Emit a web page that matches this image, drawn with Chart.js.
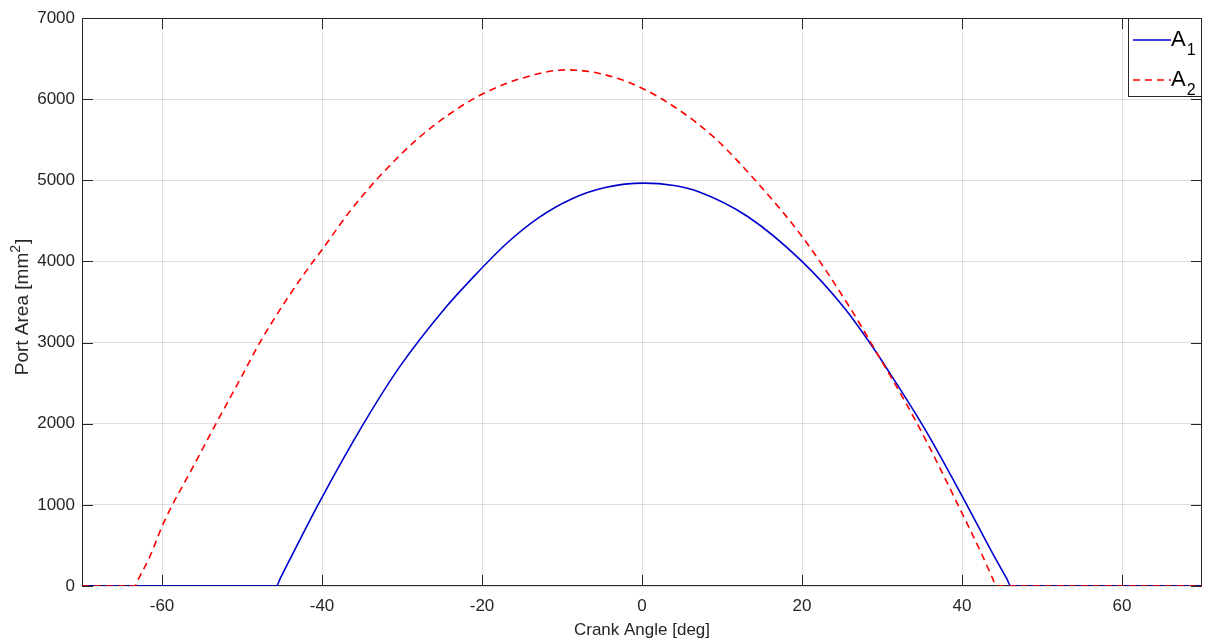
<!DOCTYPE html>
<html>
<head>
<meta charset="utf-8">
<title>Port Area vs Crank Angle</title>
<script src="https://cdn.jsdelivr.net/npm/chart.js@4.4.0/dist/chart.umd.min.js"></script>
<style>
    html, body { margin: 0; padding: 0; background: #fff; }
    #wrap { width: 1205px; height: 641px; position: relative; }
</style>
</head>
<body>
<div id="wrap"><canvas id="portChart"></canvas></div>
<script>
// Data
const a1Angle = [-70, -45.7, -45.2, -44, -40.5, -34.8, -30.3, -24.6, -21.3, -17, -12.9, -8.8, -4.6, 0.2, 4, 7, 13.2, 20, 25.3, 28.45, 30.8, 35.4, 40, 44, 45.6, 46.1, 70];
const a1Area  = [0, 0, 97, 330, 1000, 2000, 2700, 3426, 3785, 4215, 4540, 4770, 4910, 4965, 4935, 4862, 4554, 4000, 3426, 3000, 2650, 1927, 1110, 370, 90, 0, 0];

const a2Angle = [-70, -63.4, -62.9, -61.5, -59.8, -56, -53.2, -50, -47.8, -44.3, -41.1, -40, -36.5, -32.8, -28.2, -24, -20, -15, -9.5, -5, 0, 4.6, 9.1, 14.1, 20, 25.9, 28.6, 34.4, 39.5, 42.5, 43.8, 44.3, 70];
const a2Area  = [0, 0, 95, 367, 778, 1490, 2010, 2590, 2995, 3550, 4000, 4144, 4620, 5049, 5498, 5820, 6060, 6258, 6361, 6310, 6135, 5868, 5520, 5006, 4308, 3446, 3000, 2000, 1000, 385, 100, 0, 0];

const xTicks = [-60, -40, -20, 0, 20, 40, 60];
const yTicks = [0, 1000, 2000, 3000, 4000, 5000, 6000, 7000];
const seriesNames = ['A', 'A'];
const seriesSubs = ['1', '2'];

const toPoints = (xs, ys) => xs.map((v, i) => ({ x: v, y: ys[i] }));

const axisColor = '#262626';
const fontFamily = '"Liberation Sans", Arial, Helvetica, sans-serif';

// Box, inward ticks, y title with superscript and the legend, MATLAB style
const matlabFrame = {
    id: 'matlabFrame',
    beforeDatasetsDraw(chart) {
        const { ctx, chartArea: a, scales: { x, y } } = chart;
        const tl = 11;
        ctx.save();
        ctx.strokeStyle = axisColor;
        ctx.lineWidth = 1;
        ctx.beginPath();
        xTicks.forEach(v => {
            const px = Math.round(x.getPixelForValue(v)) + 0.5;
            ctx.moveTo(px, a.bottom); ctx.lineTo(px, a.bottom - tl);
            ctx.moveTo(px, a.top); ctx.lineTo(px, a.top + tl);
        });
        yTicks.forEach(v => {
            const py = Math.round(y.getPixelForValue(v)) + 0.5;
            ctx.moveTo(a.left, py); ctx.lineTo(a.left + tl, py);
            ctx.moveTo(a.right, py); ctx.lineTo(a.right - tl, py);
        });
        ctx.stroke();
        ctx.strokeRect(a.left + 0.5, a.top + 0.5, a.right - a.left - 1, a.bottom - a.top - 1);

        // y axis title: "Port Area [mm" + superscript 2 + "]"
        const mainFont = '19px ' + fontFamily;
        const supFont = '14px ' + fontFamily;
        ctx.font = mainFont;
        const w1 = ctx.measureText('Port Area [mm').width;
        const w3 = ctx.measureText(']').width;
        ctx.font = supFont;
        const w2 = ctx.measureText('2').width;
        const total = w1 + w2 + w3 + 1;
        ctx.translate(28, 307);
        ctx.rotate(-Math.PI / 2);
        ctx.fillStyle = axisColor;
        ctx.textBaseline = 'alphabetic';
        ctx.textAlign = 'left';
        let tx = -total / 2;
        ctx.font = mainFont;
        ctx.fillText('Port Area [mm', tx, 0);
        tx += w1;
        ctx.font = supFont;
        ctx.fillText('2', tx, -8);
        tx += w2 + 1;
        ctx.font = mainFont;
        ctx.fillText(']', tx, 0);
        ctx.restore();
    },
    afterDraw(chart) {
        const { ctx, chartArea: a } = chart;
        const bw = 74, bh = 79;
        const bx = a.right - bw, by = a.top;
        ctx.save();
        ctx.fillStyle = '#fff';
        ctx.fillRect(bx, by, bw, bh);
        ctx.strokeStyle = axisColor;
        ctx.lineWidth = 1;
        ctx.strokeRect(bx + 0.5, by + 0.5, bw - 1, bh - 1);

        chart.data.datasets.slice().sort((p, q) => p.legendIndex - q.legendIndex).forEach((ds, i) => {
            const ly = by + 22 + i * 40;
            ctx.beginPath();
            ctx.strokeStyle = ds.borderColor;
            ctx.lineWidth = ds.borderWidth;
            ctx.setLineDash(ds.borderDash || []);
            ctx.moveTo(bx + 5, ly);
            ctx.lineTo(bx + 43, ly);
            ctx.stroke();
            ctx.setLineDash([]);

            ctx.fillStyle = '#000';
            ctx.textBaseline = 'alphabetic';
            ctx.textAlign = 'left';
            ctx.font = '22px ' + fontFamily;
            const tx = bx + 43;
            ctx.fillText(seriesNames[i], tx, ly + 6);
            const w = ctx.measureText(seriesNames[i]).width;
            ctx.font = '16px ' + fontFamily;
            ctx.fillText(seriesSubs[i], tx + w + 1, ly + 15);
        });
        ctx.restore();
    }
};

const ctx = document.getElementById('portChart').getContext('2d');
const portChart = new Chart(ctx, {
    type: 'line',
    data: {
        datasets: [
            {
                label: 'A1',
                legendIndex: 0,
                data: toPoints(a1Angle, a1Area),
                borderColor: '#0000cc',
                borderWidth: 1.6,
                pointRadius: 0,
                cubicInterpolationMode: 'monotone',
                fill: false,
                order: 1
            },
            {
                label: 'A2',
                legendIndex: 1,
                data: toPoints(a2Angle, a2Area),
                borderColor: '#ff0000',
                borderWidth: 1.6,
                borderDash: [7, 5],
                pointRadius: 0,
                cubicInterpolationMode: 'monotone',
                fill: false,
                order: 0
            }
        ]
    },
    options: {
        responsive: true,
        maintainAspectRatio: false,
        animation: false,
        devicePixelRatio: 1,
        layout: { padding: { left: 0, right: 3, top: 18, bottom: 0 } },
        plugins: {
            legend: { display: false },
            tooltip: { enabled: false }
        },
        scales: {
            x: {
                type: 'linear',
                min: -70,
                max: 70,
                afterBuildTicks: (scale) => { scale.ticks = xTicks.map(v => ({ value: v })); },
                afterFit: (scale) => { scale.height = 55; },
                grid: { color: 'rgba(38, 38, 38, 0.15)', drawTicks: false },
                border: { display: false },
                ticks: {
                    color: axisColor,
                    padding: 10,
                    maxRotation: 0,
                    font: { family: fontFamily, size: 17 },
                    callback: (v) => String(v)
                },
                title: {
                    display: true,
                    text: 'Crank Angle [deg]',
                    color: axisColor,
                    font: { family: fontFamily, size: 17 },
                    padding: { top: 0, bottom: 0 }
                }
            },
            y: {
                min: 0,
                max: 7000,
                afterBuildTicks: (scale) => { scale.ticks = yTicks.map(v => ({ value: v })); },
                afterFit: (scale) => { scale.width = 82; },
                grid: { color: 'rgba(38, 38, 38, 0.15)', drawTicks: false },
                border: { display: false },
                ticks: {
                    color: axisColor,
                    padding: 7,
                    font: { family: fontFamily, size: 17 },
                    callback: (v) => String(v)
                },
                title: { display: false }
            }
        }
    },
    plugins: [matlabFrame]
});
</script>
</body>
</html>
